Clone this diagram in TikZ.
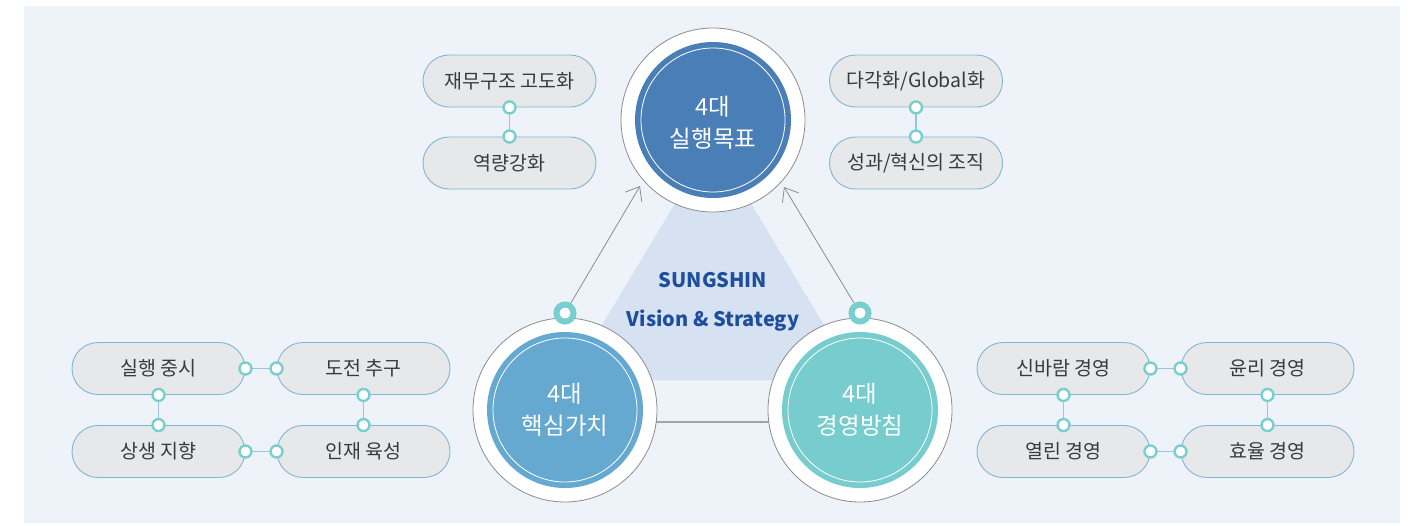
\documentclass[tikz,border=0pt]{standalone}
\usepackage{fontspec}
\setmainfont{Noto Sans CJK KR}
\usetikzlibrary{calc,arrows.meta}
\definecolor{bgc}{HTML}{EEF3FA}
\definecolor{tric}{HTML}{D6E2F1}
\definecolor{topc}{HTML}{4A7EB7}
\definecolor{leftc}{HTML}{65A8D0}
\definecolor{rightc}{HTML}{77CCCE}
\definecolor{pillfill}{HTML}{E7E8EA}
\definecolor{pillline}{HTML}{7FB6D5}
\definecolor{ringc}{HTML}{79CFCF}
\definecolor{linkc}{HTML}{9CC4DE}
\definecolor{txtc}{HTML}{3A3A3A}
\definecolor{navy}{HTML}{1E4F9C}
\definecolor{grayline}{HTML}{8C8C8C}
\tikzset{
  pill/.style={draw=pillline, fill=pillfill, line width=0.9pt, rounded corners=26pt,
    minimum width=173pt, minimum height=52pt, inner sep=0pt,
    font=\fontsize{19.5}{22}\selectfont, text=txtc},
  dotring/.style={circle, draw=ringc, fill=white, line width=2.4pt, minimum size=12pt, inner sep=0pt},
  bigring/.style={circle, draw=ringc, fill=white, line width=6pt, minimum size=17pt, inner sep=0pt},
  link/.style={draw=linkc, line width=1.2pt},
  outerc/.style={circle, draw=grayline, fill=white, line width=0.8pt, minimum size=184pt, inner sep=0pt},
  corec/.style={circle, minimum size=156pt, inner sep=0pt},
  innerline/.style={circle, draw=white, line width=0.8pt, minimum size=144pt, inner sep=0pt},
  ctext/.style={align=center, text=white, font=\fontsize{23.5}{32}\selectfont, inner sep=0pt},
  arr/.style={draw=grayline, line width=0.8pt, -{Straight Barb[length=12pt,width=19pt,line width=0.8pt]}},
}
\begin{document}
\begin{tikzpicture}[x=1pt,y=-1pt]
\useasboundingbox (0,0) rectangle (1414,525);
\fill[bgc] (24,6) rectangle (1400,523);
% triangle
\fill[tric] (713,140) -- (857,380) -- (569,380) -- cycle;
% coordinates
\coordinate (cT) at (713,120);
\coordinate (cL) at (565,410);
\coordinate (cR) at (860,410);
% base line
\draw[grayline!80, line width=1.2pt] ($(cL)+(0,12)$) -- ($(cR)+(0,12)$);
% circles
\node[outerc] (oT) at (cT) {};
\node[corec, fill=topc] (fT) at (cT) {};
\node[innerline] (iT) at (cT) {};
\node[ctext] (tT) at ($(cT)+(0,3)$) {4대\\실행목표};
\node[outerc] (oL) at (cL) {};
\node[corec, fill=leftc] (fL) at (cL) {};
\node[innerline] (iL) at (cL) {};
\node[ctext] (tL) at ($(cL)+(0,0)$) {4대\\핵심가치};
\node[outerc] (oR) at (cR) {};
\node[corec, fill=rightc] (fR) at (cR) {};
\node[innerline] (iR) at (cR) {};
\node[ctext] (tR) at ($(cR)+(0,0)$) {4대\\경영방침};
% center text
\node[text=navy, font=\fontsize{20}{22}\selectfont\bfseries] (s1) at (713,280) {SUNGSHIN};
\node[text=navy, font=\fontsize{20}{22}\selectfont\bfseries] (s2) at (713,321) {Vision \& Strategy};
% markers and arrows
\node[bigring] (mL) at (565,313) {};
\node[bigring] (mR) at (860,313) {};
\coordinate (tipL) at (640,186);
\coordinate (tipR) at (784,187);
\draw[arr] (mL) -- (tipL);
\draw[arr] (mR) -- (tipR);
% top-left pills
\node[pill] (p1) at (509.5,81) {재무구조 고도화};
\node[pill] (p2) at (509.5,163) {역량강화};
\draw[link] (p1.south) -- (p2.north);
\node[dotring] at (p1.south) {};
\node[dotring] at (p2.north) {};
% top-right pills
\node[pill] (p3) at (916,81) {다각화/Global화};
\node[pill] (p4) at (916,163) {성과/혁신의 조직};
\draw[link] (p3.south) -- (p4.north);
\node[dotring] at (p3.south) {};
\node[dotring] at (p4.north) {};
% bottom-left group
\node[pill] (a1) at (158.5,368.5) {실행 중시};
\node[pill] (a2) at (363.5,368.5) {도전 추구};
\node[pill] (a3) at (158.5,451.5) {상생 지향};
\node[pill] (a4) at (363.5,451.5) {인재 육성};
\draw[link] (a1.east) -- (a2.west);
\draw[link] (a1.south) -- (a3.north);
\draw[link] (a2.south) -- (a4.north);
\draw[link] (a3.east) -- (a4.west);
\foreach \n/\a in {a1/east,a2/west,a1/south,a3/north,a2/south,a4/north,a3/east,a4/west}
  \node[dotring] at (\n.\a) {};
% bottom-right group
\node[pill] (b1) at (1063.5,368.5) {신바람 경영};
\node[pill] (b2) at (1267.5,368.5) {윤리 경영};
\node[pill] (b3) at (1063.5,451.5) {열린 경영};
\node[pill] (b4) at (1267.5,451.5) {효율 경영};
\draw[link] (b1.east) -- (b2.west);
\draw[link] (b1.south) -- (b3.north);
\draw[link] (b2.south) -- (b4.north);
\draw[link] (b3.east) -- (b4.west);
\foreach \n/\a in {b1/east,b2/west,b1/south,b3/north,b2/south,b4/north,b3/east,b4/west}
  \node[dotring] at (\n.\a) {};
\end{tikzpicture}
\end{document}
